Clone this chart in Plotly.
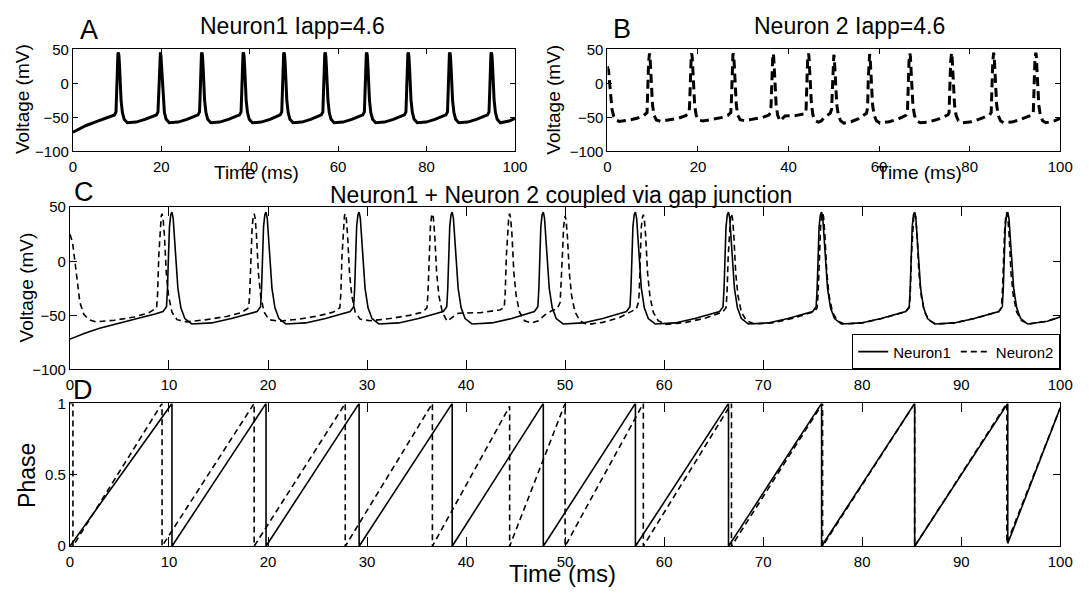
import plotly.graph_objects as go

W, H = 1089, 596
FONT = "Liberation Sans, Arial, Helvetica, sans-serif"

# ---------------- data ----------------
# Neuron 1 membrane voltage (ms, mV) - panel A and solid line of panel C
N1_VOLTAGE = [
    (0, -72), (1.5, -66.5), (3, -62), (5, -57), (7, -52.5), (8.5, -49),
    (9.4, -46.5), (9.75, -42), (9.85, -25), (9.95, 5), (10.05, 32), (10.18, 43), (10.3, 45.5), (10.42, 40), (10.55, 25), (10.7, 2), (10.9, -25), (11.2, -43), (11.6, -53), (12.3, -58), (14.3, -57), (16.3, -53),
    (18.9, -46.5), (19.25, -42), (19.35, -25), (19.45, 5), (19.55, 32), (19.68, 43), (19.8, 45.5), (19.92, 40), (20.05, 25), (20.2, 2), (20.4, -25), (20.7, -43), (21.1, -53), (21.8, -58), (23.8, -57), (25.8, -53),
    (28.3, -46.5), (28.65, -42), (28.75, -25), (28.85, 5), (28.95, 32), (29.08, 43), (29.2, 45.5), (29.32, 40), (29.45, 25), (29.6, 2), (29.8, -25), (30.1, -43), (30.5, -53), (31.2, -58), (33.2, -57), (35.2, -53),
    (37.7, -46.5), (38.05, -42), (38.15, -25), (38.25, 5), (38.35, 32), (38.48, 43), (38.6, 45.5), (38.72, 40), (38.85, 25), (39.0, 2), (39.2, -25), (39.5, -43), (39.9, -53), (40.6, -58), (42.6, -57), (44.6, -53),
    (46.9, -46.5), (47.25, -42), (47.35, -25), (47.45, 5), (47.55, 32), (47.68, 43), (47.8, 45.5), (47.92, 40), (48.05, 25), (48.2, 2), (48.4, -25), (48.7, -43), (49.1, -53), (49.8, -58), (51.8, -57), (53.8, -53),
    (56.2, -46.5), (56.55, -42), (56.65, -25), (56.75, 5), (56.85, 32), (56.98, 43), (57.1, 45.5), (57.22, 40), (57.35, 25), (57.5, 2), (57.7, -25), (58.0, -43), (58.4, -53), (59.1, -58), (61.1, -57), (63.1, -53),
    (65.6, -46.5), (65.95, -42), (66.05, -25), (66.15, 5), (66.25, 32), (66.38, 43), (66.5, 45.5), (66.62, 40), (66.75, 25), (66.9, 2), (67.1, -25), (67.4, -43), (67.8, -53), (68.5, -58), (70.5, -57), (72.5, -53),
    (75.0, -46.5), (75.35, -42), (75.45, -25), (75.55, 5), (75.65, 32), (75.78, 43), (75.9, 45.5), (76.02, 40), (76.15, 25), (76.3, 2), (76.5, -25), (76.8, -43), (77.2, -53), (77.9, -58), (79.9, -57), (81.9, -53),
    (84.4, -46.5), (84.75, -42), (84.85, -25), (84.95, 5), (85.05, 32), (85.18, 43), (85.3, 45.5), (85.42, 40), (85.55, 25), (85.7, 2), (85.9, -25), (86.2, -43), (86.6, -53), (87.3, -58), (89.3, -57), (91.3, -53),
    (93.8, -46.5), (94.15, -42), (94.25, -25), (94.35, 5), (94.45, 32), (94.58, 43), (94.7, 45.5), (94.82, 40), (94.95, 25), (95.1, 2), (95.3, -25), (95.6, -43), (96.0, -53), (96.7, -58), (98.7, -55.5), (100, -51.5),
]

# Neuron 2 membrane voltage (ms, mV) - panel B and dashed line of panel C
N2_VOLTAGE = [
    (0, 25), (0.25, 18), (0.5, 0), (0.75, -22), (1.0, -38), (1.4, -49), (1.9, -54), (2.6, -56), (4.5, -54.5), (6.5, -51.5), (8.0, -47.5),
    (8.75, -43), (8.85, -30), (8.97, 5), (9.1, 32), (9.22, 42), (9.3, 44), (9.4, 40), (9.53, 25), (9.73, -11), (9.96, -32), (10.3, -47), (10.8, -54), (11.8, -56), (13.8, -54), (15.8, -51), (17.3, -47.5),
    (18.05, -43), (18.15, -30), (18.27, 5), (18.4, 32), (18.52, 42), (18.6, 44), (18.7, 40), (18.83, 25), (19.03, -11), (19.26, -32), (19.6, -47), (20.1, -54), (21.1, -55.5), (23.1, -53.5), (25.1, -50.5), (26.6, -47),
    (27.25, -43), (27.35, -30), (27.47, 5), (27.6, 32), (27.72, 42), (27.8, 44), (27.9, 40), (28.03, 25), (28.23, -11), (28.46, -32), (28.8, -47), (29.3, -53.5), (30.3, -55), (32.3, -53), (34.3, -50), (35.6, -47),
    (36.05, -43), (36.15, -30), (36.27, 5), (36.4, 32), (36.52, 42), (36.6, 44), (36.7, 40), (36.83, 25), (37.03, -11), (37.26, -32), (37.6, -47), (38.1, -55.5), (38.6, -52), (39.2, -48), (41.5, -47.5), (43.4, -45),
    (43.85, -43), (43.95, -30), (44.07, 5), (44.2, 32), (44.32, 42), (44.4, 44), (44.5, 40), (44.63, 25), (44.83, -11), (45.06, -32), (45.4, -47), (45.9, -55), (46.6, -57), (47.3, -55), (47.9, -50), (48.6, -46), (49.2, -44),
    (49.5, -38), (49.65, -15), (49.75, 10), (49.85, 32), (49.93, 40), (50.0, 42), (50.1, 38), (50.23, 23), (50.43, -11), (50.66, -32), (51.0, -47), (51.5, -55), (52.2, -58.5), (53.8, -56.5), (55.5, -52), (56.6, -47), (57.2, -44),
    (57.4, -38), (57.48, -30), (57.6, 5), (57.7, 32), (57.82, 41), (57.9, 43), (58.0, 39), (58.13, 24), (58.33, -11), (58.56, -32), (58.9, -47), (59.4, -55), (60.2, -58.5), (62.2, -56.5), (64.2, -52.5), (65.9, -47),
    (66.25, -43), (66.35, -30), (66.47, 5), (66.6, 32), (66.72, 42), (66.8, 44), (66.9, 40), (67.03, 25), (67.23, -11), (67.46, -32), (67.8, -47), (68.3, -55), (69.1, -58), (70.9, -57), (72.9, -53), (75.2, -46.5),
    (75.45, -43), (75.55, -30), (75.67, 5), (75.8, 32), (75.92, 43), (76.0, 45), (76.1, 41), (76.23, 25), (76.43, -11), (76.66, -32), (77.0, -47), (77.5, -55), (78.2, -58), (80.0, -57), (82.0, -53), (84.4, -46.5),
    (84.75, -43), (84.85, -30), (84.97, 5), (85.1, 32), (85.22, 43), (85.3, 45), (85.4, 41), (85.53, 25), (85.73, -11), (85.96, -32), (86.3, -47), (86.8, -55), (87.5, -58), (89.3, -57), (91.3, -53), (93.8, -46.5),
    (94.05, -43), (94.15, -30), (94.27, 5), (94.4, 32), (94.52, 43), (94.6, 45), (94.7, 41), (94.83, 25), (95.03, -11), (95.26, -32), (95.6, -47), (96.1, -55), (96.8, -58), (98.6, -55.5), (100, -51.5),
]

# Phase of neuron 1 (panel D, solid)
N1_PHASE_T = [0, 10.3, 10.3, 19.8, 19.8, 29.2, 29.2, 38.6, 38.6, 47.8, 47.8, 57.1, 57.1,
              66.5, 66.5, 75.9, 75.9, 85.3, 85.3, 94.7, 94.7, 100]
N1_PHASE = [0, 1, 0, 1, 0, 1, 0, 1, 0, 1, 0, 1, 0, 1, 0, 1, 0, 1, 0, 1, 0.02, 0.97]

# Phase of neuron 2 (panel D, dashed)
N2_PHASE_T = [0, 0.3, 0.3, 9.3, 9.3, 18.6, 18.6, 27.8, 27.8, 36.6, 36.6, 44.4, 44.4, 50.0, 50.0,
              57.9, 57.9, 66.8, 66.8, 76.0, 76.0, 85.3, 85.3, 94.6, 94.6, 100]
N2_PHASE = [1, 1, 0, 1, 0, 1, 0, 1, 0, 1, 0, 0.98, 0, 1, 0, 1, 0, 1, 0, 1, 0, 1, 0, 1, 0.02, 0.97]

SERIES_NAMES = ["Neuron1", "Neuron2"]
TITLES = ["Neuron1 Iapp=4.6", "Neuron 2 Iapp=4.6", "Neuron1 + Neuron 2 coupled via gap junction"]
PANEL_LETTERS = ["A", "B", "C", "D"]

# ---------------- figure ----------------
n1_t, n1_v = zip(*N1_VOLTAGE)
n2_t, n2_v = zip(*N2_VOLTAGE)

fig = go.Figure()


def add(xa, ya, x, y, width, dash, name=None, show=False):
    fig.add_trace(go.Scatter(x=list(x), y=list(y), mode="lines",
                             line=dict(color="black", width=width, dash=dash),
                             xaxis=xa, yaxis=ya, name=name, showlegend=show,
                             hoverinfo="skip"))


add("x", "y", n1_t, n1_v, 3, "solid")
add("x2", "y2", n2_t, n2_v, 3, "9px,5px")
add("x3", "y3", n1_t, n1_v, 1.6, "solid", SERIES_NAMES[0], True)
add("x3", "y3", n2_t, n2_v, 1.6, "6px,4px", SERIES_NAMES[1], True)
add("x4", "y4", N1_PHASE_T, N1_PHASE, 1.6, "solid")
add("x4", "y4", N2_PHASE_T, N2_PHASE, 1.6, "6px,4px")


def fx(px):
    return px / W


def fy(py):
    return 1 - py / H


def axis(**kw):
    base = dict(showline=True, linecolor="black", linewidth=1, mirror="ticks",
                ticks="inside", tickcolor="black", tickwidth=1, showgrid=False,
                zeroline=False, tickfont=dict(size=15, color="black", family=FONT),
                fixedrange=True)
    base.update(kw)
    return base


topA, botA = 41.5, 146.5
fig.update_layout(
    width=W, height=H, margin=dict(l=0, r=0, t=0, b=0),
    paper_bgcolor="white", plot_bgcolor="white",
    font=dict(family=FONT, color="black"),
    xaxis=axis(domain=[fx(70), fx(519)], range=[0, 100], dtick=20, ticklen=5, anchor="y", ticklabelstandoff=2),
    yaxis=axis(domain=[fy(botA), fy(topA)], range=[-100, 50], dtick=50, ticklen=5, anchor="x"),
    xaxis2=axis(domain=[fx(613), fx(1073)], range=[0, 100], dtick=20, ticklen=5, anchor="y2", ticklabelstandoff=2),
    yaxis2=axis(domain=[fy(botA), fy(topA)], range=[-100, 50], dtick=50, ticklen=5, anchor="x2"),
    xaxis3=axis(domain=[fx(67), fx(1073)], range=[0, 100], dtick=10, ticklen=9, anchor="y3", ticklabelstandoff=2),
    yaxis3=axis(domain=[fy(371), fy(204)], range=[-100, 50], dtick=50, ticklen=7, anchor="x3"),
    xaxis4=axis(domain=[fx(67), fx(1073)], range=[0, 100], dtick=10, ticklen=9, anchor="y4", ticklabelstandoff=2),
    yaxis4=axis(domain=[fy(553), fy(406)], range=[0, 1], dtick=0.5, ticklen=7, anchor="x4"),
    legend=dict(orientation="h", x=fx(1073), xanchor="right", y=fy(371), yanchor="bottom",
                bgcolor="white", bordercolor="black", borderwidth=1,
                font=dict(size=15, color="black", family=FONT), itemwidth=30,
                tracegroupgap=0),
)

ann = []


def text(x, y, s, size, angle=0):
    ann.append(dict(x=fx(x), y=fy(y), xref="paper", yref="paper", text=s, showarrow=False,
                    font=dict(size=size, color="black", family=FONT),
                    xanchor="center", yanchor="middle", textangle=angle))


# panel letters
text(86, 22, PANEL_LETTERS[0], 27)
text(628, 21, PANEL_LETTERS[1], 27)
text(81, 188, PANEL_LETTERS[2], 27)
text(80, 392, PANEL_LETTERS[3], 27)
# titles
text(293, 17, TITLES[0], 23)
text(859, 17, TITLES[1], 23)
text(566, 191, TITLES[2], 23)
# axis titles
text(256, 168, "Time (ms)", 19)
text(930, 168, "Time (ms)", 19)
text(19, 93, "Voltage (mV)", 19, -90)
text(558, 93, "Voltage (mV)", 19, -90)
text(23, 287, "Voltage (mV)", 19, -90)
text(24, 480, "Phase", 23, -90)
text(567, 581, "Time (ms)", 24)

fig.update_layout(annotations=ann)
fig.write_html("out.html")
